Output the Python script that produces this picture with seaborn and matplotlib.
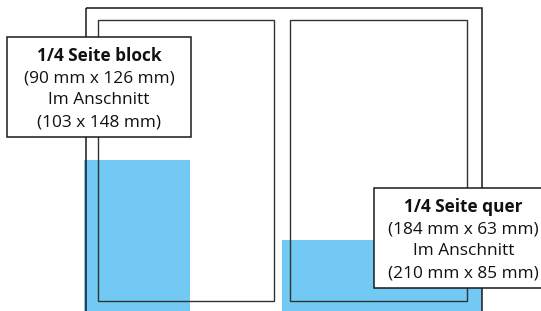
import matplotlib
matplotlib.use("Agg")
import matplotlib.pyplot as plt
import matplotlib.patches as patches
import seaborn as sns

# --- Daten (Bildkoordinaten in Pixel, y nach unten) ---
# Seitenrahmen: [x, y, breite, hoehe]
outer_frame = [86, 8, 396, 330]
pages = [[98, 20, 176, 281], [290, 20, 177, 281]]

# Anzeigenflaechen (blau)
ad_names = ["1/4 Seite block", "1/4 Seite quer"]
ad_left = [84, 282]
ad_width = [106, 200]
ad_top = [160, 240]
ad_bottom = [311, 311]

# Beschriftungen
label_titles = ["1/4 Seite block", "1/4 Seite quer"]
label_sizes = ["(90 mm x 126 mm)", "(184 mm x 63 mm)"]
label_bleed = ["Im Anschnitt", "Im Anschnitt"]
label_bleed_sizes = ["(103 x 148 mm)", "(210 mm x 85 mm)"]
label_boxes = [[7, 37, 184, 100], [374, 188, 180, 100]]
label_centers = [99, 463.5]

sns.set_theme(style="white")
plt.rcParams['font.family'] = ['Open Sans', 'DejaVu Sans']

fig = plt.figure(figsize=(5.41, 3.11), dpi=100)
ax = fig.add_axes([0, 0, 1, 1])
ax.set_xlim(0, 541)
ax.set_ylim(311, 0)
ax.axis("off")

# blaue Flaechen als Balken
heights = [b - t for t, b in zip(ad_top, ad_bottom)]
ax.bar(ad_left, heights, width=ad_width, bottom=ad_top, align="edge",
       color="#72c9f4", edgecolor="none", zorder=1)

# Rahmen
x, y, w, h = outer_frame
ax.add_patch(patches.Rectangle((x, y), w, h, fill=False, edgecolor="#1a1a1a",
                               lw=1.1, zorder=2))
for x, y, w, h in pages:
    ax.add_patch(patches.Rectangle((x, y), w, h, fill=False, edgecolor="#333333",
                                   lw=1.0, zorder=2))

# Beschriftungsboxen
for i, (x, y, w, h) in enumerate(label_boxes):
    ax.add_patch(patches.Rectangle((x, y), w, h, facecolor="white",
                                   edgecolor="#1a1a1a", lw=1.1, zorder=3))
    cx = label_centers[i]
    lines = [label_titles[i], label_sizes[i], label_bleed[i], label_bleed_sizes[i]]
    for j, line in enumerate(lines):
        ax.text(cx, y + 19 + j * 22.2, line, ha="center", va="center",
                fontsize=12.4, color="#111111",
                fontweight="bold" if j == 0 else "normal", zorder=4)

fig.savefig("out.png", dpi=100)
